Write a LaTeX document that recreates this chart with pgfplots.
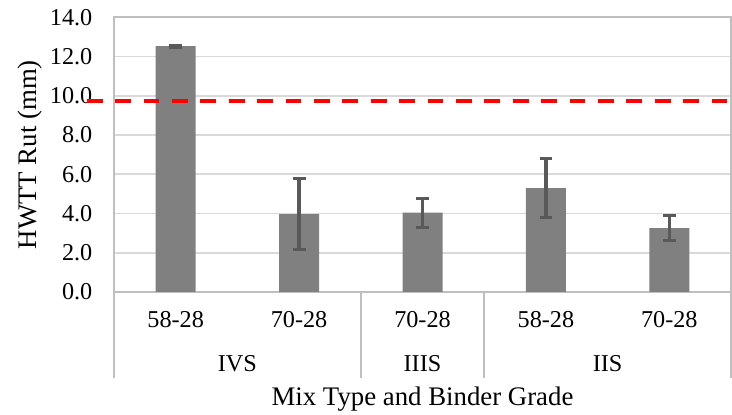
\documentclass[border=0pt]{standalone}
\usepackage{fontspec}
\setmainfont{Liberation Serif}
\usepackage{pgfplots}
\usepackage{pgfplotstable}
\pgfplotsset{compat=1.18}
\definecolor{barg}{HTML}{808080}
\definecolor{errg}{HTML}{595959}
\definecolor{gridg}{HTML}{D9D9D9}
\definecolor{frameg}{HTML}{BFBFBF}
\pgfplotstableread{
x y e
0 12.53 0.05
1 3.97 1.81
2 4.04 0.75
3 5.29 1.50
4 3.26 0.65
}\rutdata
\begin{document}
\begin{tikzpicture}
\useasboundingbox (0,0) rectangle (366pt,207.5pt);
\begin{axis}[
  at={(57pt,61.5pt)}, anchor=south west,
  scale only axis, width=308.5pt, height=137.35pt,
  xmin=-0.5, xmax=4.5, ymin=0, ymax=14,
  ytick={0,2,...,14},
  xtick={0,1,2,3,4},
  xticklabels={58-28,70-28,70-28,58-28,70-28},
  major tick length=0pt,
  ymajorgrids, grid style={gridg, line width=0.8pt},
  axis line style={frameg, line width=0.8pt},
  /pgf/number format/assume math mode=true,
  y tick label style={/pgf/number format/fixed, /pgf/number format/fixed zerofill, /pgf/number format/precision=1,
     font=\fontsize{12.1}{14}\selectfont, inner sep=0pt, anchor=east, xshift=-10.65pt},
  x tick label style={font=\fontsize{12.1}{14}\selectfont, inner sep=0pt, anchor=center, yshift=-14pt},
  ylabel={HWTT Rut (mm)},
  ylabel style={font=\fontsize{13.4}{16}\selectfont, at={(axis description cs:-0.1353,0.5)}, anchor=center, inner sep=0pt},
  xlabel={Mix Type and Binder Grade},
  xlabel style={font=\fontsize{13.4}{16}\selectfont, at={(axis description cs:0.5,0)}, anchor=base, inner sep=0pt, yshift=-56.85pt},
  clip=false,
]
\addplot[ybar, bar width=20pt, fill=barg, draw=none,
  error bars/.cd, y dir=both, y explicit,
  error bar style={errg, line width=1.65pt},
  error mark options={rotate=90, errg, mark size=3.2pt, line width=1.5pt}]
  table[x=x, y=y, y error=e] {\rutdata};
\addplot[red, line width=1.65pt, dash pattern=on 7.85pt off 6.35pt] coordinates {(-0.72,9.73) (4.51,9.73)};
\draw[frameg, line width=0.8pt] (axis cs:-0.5,0) -- ++(0pt,-42.85pt);
\draw[frameg, line width=0.8pt] (axis cs:1.5,0) -- ++(0pt,-42.85pt);
\draw[frameg, line width=0.8pt] (axis cs:2.5,0) -- ++(0pt,-42.85pt);
\draw[frameg, line width=0.8pt] (axis cs:4.5,0) -- ++(0pt,-42.85pt);
\node[font=\fontsize{12.1}{14}\selectfont, inner sep=0pt, anchor=center] at ([yshift=-36pt]axis cs:0.5,0) {IVS};
\node[font=\fontsize{12.1}{14}\selectfont, inner sep=0pt, anchor=center] at ([yshift=-36pt]axis cs:2,0) {IIIS};
\node[font=\fontsize{12.1}{14}\selectfont, inner sep=0pt, anchor=center] at ([yshift=-36pt]axis cs:3.5,0) {IIS};
\end{axis}
\end{tikzpicture}
\end{document}
